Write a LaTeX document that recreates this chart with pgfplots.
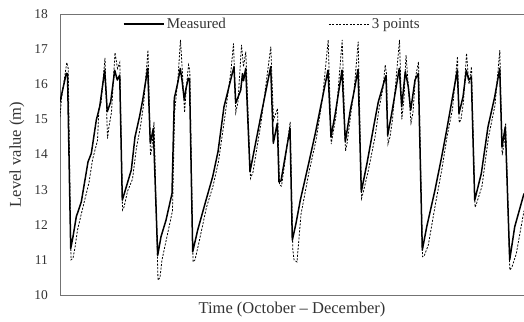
\documentclass[border=0pt]{standalone}
\usepackage{fontspec}
\setmainfont{Liberation Serif}
\usepackage{pgfplots}
\pgfplotsset{compat=1.18}
\definecolor{txt}{gray}{0.2}
\begin{document}
\begin{tikzpicture}
\begin{axis}[
  scale only axis, width=464bp, height=281bp,
  xmin=60, xmax=524, ymin=10, ymax=18,
  ytick={10,11,...,18}, xtick=\empty,
  major tick length=0pt,
  axis x line*=box, axis y line*=left,
  axis line style={-, draw=black!55, line width=0.9bp},
  /pgf/number format/assume math mode=true,
  tick label style={font=\fontsize{13.5bp}{16bp}\selectfont, text=txt},
  yticklabel style={anchor=east, inner sep=0pt, xshift=-12bp},
  every axis y label/.style={at={(axis description cs:-0.0927,0.5)}, rotate=90, anchor=center, font=\fontsize{16.5bp}{19bp}\selectfont, text=txt},
  every axis x label/.style={at={(axis description cs:0.5,0)}, anchor=center, yshift=-14.5bp, font=\fontsize{16.5bp}{19bp}\selectfont, text=txt},
  ylabel={Level value (m)},
  xlabel={Time (October – December)},
  legend columns=2,
  legend image code/.code={\draw[#1] (0bp,0bp) -- (40bp,0bp);},
  legend style={at={(0.458,0.964)}, anchor=center, draw=none, fill=none,
    font=\fontsize{15bp}{18bp}\selectfont, text=txt,
    nodes={inner sep=2.5bp},
    /tikz/every even column/.append style={column sep=100bp}},
]
\coordinate (SW) at (rel axis cs:0,0);
\addplot[black, line width=1.5bp, line join=round] coordinates {
(60,15.5) (66.3,16.31) (67.5,16.3) (70.7,11.32) (73,11.66) (76.3,12.23) (81.3,12.65)
(88,13.79) (91.3,14.03) (96.3,14.98) (99.7,15.36) (104.7,16.40) (107.3,15.22) (110.7,15.50)
(114.7,16.40) (117.3,16.12) (119.7,16.26) (122.3,12.70) (126.3,13.08) (131.3,13.56)
(135,14.5) (139.7,15.10) (142.7,15.55) (147.7,16.45) (150.3,14.32) (153.3,14.74)
(157.7,11.13) (161,11.66) (166,12.13) (172,12.89) (174.3,15.60) (177.7,16.03) (180.3,16.45)
(182,16.12) (184.3,15.55) (186,15.88) (188.3,16.17) (189.5,16.15) (192.7,11.23)
(197.7,11.85) (206,12.70) (212.7,13.37) (218,14.08) (224,15.36) (232.3,16.31) (234,16.50)
(235.7,15.46) (240.7,15.83) (242.5,16.3) (243.5,16.1) (245.7,16.45) (250,13.51)
(260.7,15.07) (270.7,16.50) (273.3,14.32) (277.3,14.89) (279,13.22) (281,13.25)
(290,14.74) (292.3,11.56) (296,12.04) (300.3,12.70) (308.7,13.75) (315.3,14.60)
(322,15.55) (328,16.40) (331,14.50) (335.3,15.17) (342,16.40) (345.3,14.36) (350.3,15.26)
(353.7,15.74) (358,16.42) (361.3,12.94) (367,13.75) (374,14.85) (378.3,15.50)
(382.7,15.93) (385,16.17) (386,16.25) (387.7,14.55) (391.7,15.17) (399.3,16.45)
(401.7,15.36) (405.3,16.36) (408.3,15.93) (410.7,15.26) (415,16.12) (418.3,16.31)
(422.3,11.28) (426.7,11.94) (435,12.99) (441.7,13.94) (446.7,14.70) (452,15.55)
(457.3,16.40) (459,15.17) (463,15.64) (466.3,16.40) (468.7,16.12) (471.3,16.21)
(474.7,12.70) (481.3,13.46) (488,14.79) (494.7,15.64) (499.7,16.45) (502,14.22)
(505.3,14.79) (509.7,11.0) (514.7,11.94) (524,12.89)
};
\addlegendentry{Measured}
\addplot[black, line width=0.8bp, dash pattern=on 2bp off 1.5bp] coordinates {
(60,15.07) (61.5,15.6) (66.8,16.62) (68.2,16.45) (71,11.0) (73,11.05) (75,11.35)
(77.5,11.85) (82.5,12.45) (89,13.2) (92.5,13.85) (97.5,14.4) (99,15.35) (101,15.45)
(105,16.75) (107.5,14.45) (109,14.8) (111.5,15.2) (115,16.9) (117.5,16.45) (119.8,16.62)
(122.5,12.42) (124,12.5) (127.5,12.95) (132.5,13.3) (136.5,14.2) (140.5,14.8) (143.5,15.4)
(148,16.97) (150.5,13.98) (152,14.2) (154,14.93) (158,10.42) (160,10.5) (162,11.0)
(166.5,11.6) (172.5,12.4) (174.6,15.2) (178,16.2) (180.5,17.26) (182.3,16.4) (184.6,15.2)
(186.5,15.95) (188.5,16.55) (189.8,16.4) (193,10.94) (195,11.0) (199,11.5) (206.5,12.5)
(213,13.1) (218.5,13.8) (225,15.1) (231,16.4) (233.5,17.16) (235.8,15.2) (238,15.5)
(241.5,17.12) (243.5,16.5) (245.8,16.93) (250.5,13.32) (253,13.5) (261,14.9) (270.8,17.07)
(273.5,14.98) (277.5,15.31) (279.5,13.13) (281.5,13.1) (284,13.6) (290.2,14.93)
(292.8,11.3) (294,11.0) (297,10.94) (301,12.3) (309,13.5) (316,14.4) (322.5,15.6)
(328.2,17.26) (331.2,14.3) (333,14.6) (336,15.1) (342.2,17.26) (345.5,14.1) (347,14.3)
(351,15.2) (354,15.8) (358.2,17.21) (361.5,12.75) (363,12.9) (368,13.5) (375,14.5)
(379,15.3) (383,15.9) (385.2,16.55) (386.5,16.3) (388,14.3) (390,14.5) (392.5,15.0)
(399.5,17.26) (401.8,15.0) (404,15.6) (406,16.83) (408.5,15.9) (411,14.9) (413,15.2)
(415.5,16.2) (418.5,16.64) (422.5,11.09) (424,11.1) (428.3,11.42) (435.5,12.6) (442,13.6)
(447,14.5) (452.5,15.3) (457.5,16.79) (459.2,14.9) (461,15.0) (463.5,15.5) (466.5,16.88)
(469,16.0) (471.5,16.5) (475,12.5) (476.5,12.6) (482,13.1) (488.5,14.5) (495,15.4)
(499.8,16.97) (502.2,13.98) (504,14.3) (505.6,14.9) (509.8,10.71) (512,10.8) (516.3,11.18)
(524,12.4)
};
\addlegendentry{3 points}
\end{axis}
\pgfresetboundingbox
\path[use as bounding box] (SW) ++(-60bp,-27bp) rectangle ++(524bp,322bp);
\end{tikzpicture}
\end{document}
